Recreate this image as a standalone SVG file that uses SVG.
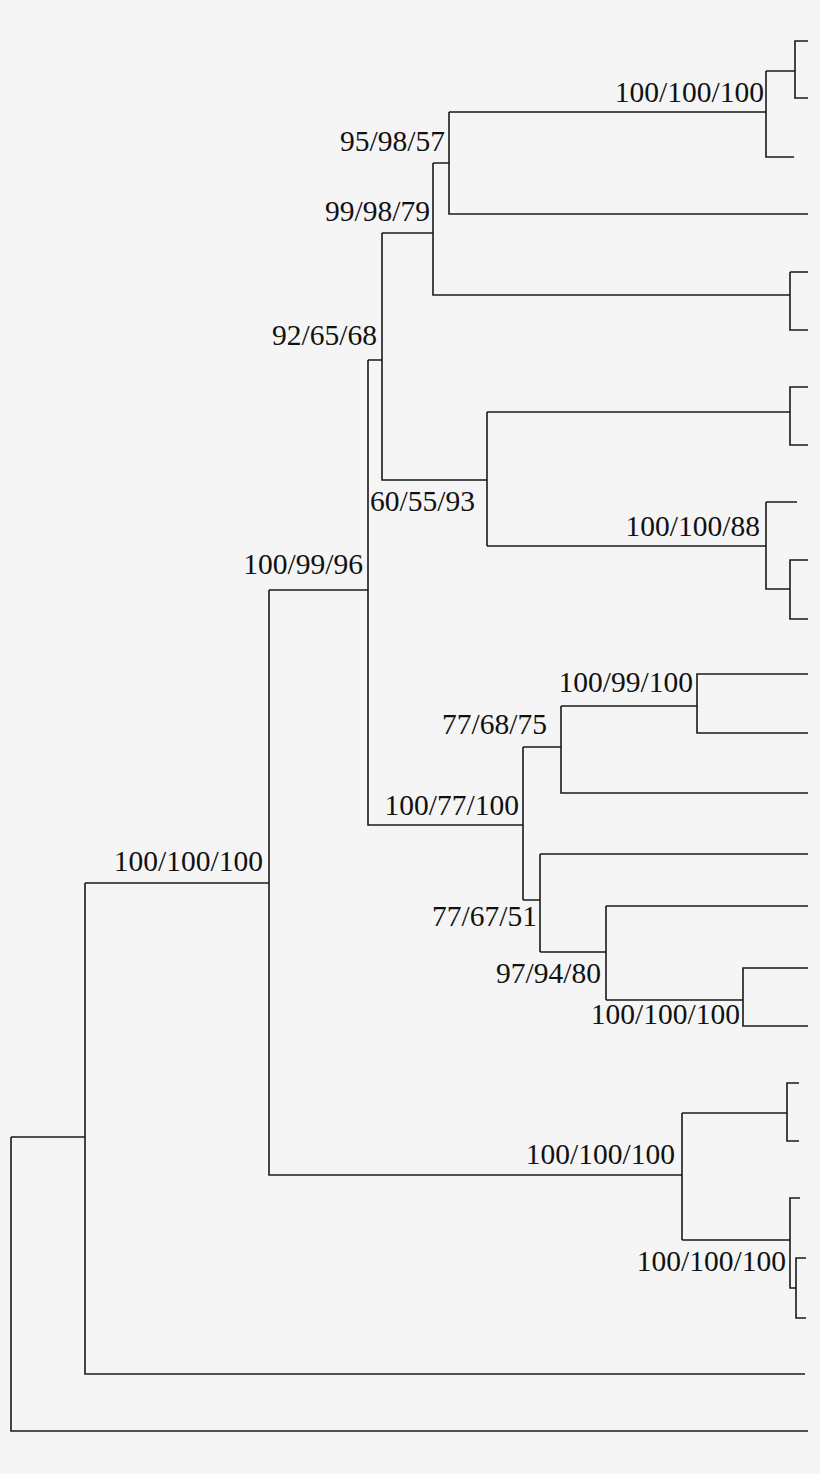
<svg xmlns="http://www.w3.org/2000/svg" width="820" height="1474" viewBox="0 0 820 1474">
<style>
.e{fill:none;stroke:#1a1a1a;stroke-width:1.6}
text{font-family:"Liberation Serif",serif;font-size:29.5px;fill:#111}
.r{text-anchor:end}
</style>
<rect width="820" height="1474" fill="#f5f5f5"/>
<g id="connectors" class="e">
<path d="M808,41H795V98H808M766,71H795M766,71V157H794M449,112H766M449,112V214H808"/>
<path d="M433,163H449M433,163V295H790M790,272H808M790,272V330H808M382,233H433"/>
<path d="M382,233V480H487M487,412V546M487,412H790M808,387H790V445H808M487,546H766M766,502H797M766,502V589H790M808,560H790V619H808"/>
<path d="M368,360H382M368,360V825H523M269,590H368"/>
<path d="M523,747V900M523,747H561M561,706V793H808M561,706H697M808,674H697V733H808"/>
<path d="M523,900H540M540,854V952M540,854H808M540,952H606M606,906V1000M606,906H808M606,1000H743M808,968H743V1026H808"/>
<path d="M269,590V1175H682M682,1113V1240M682,1113H787M799,1083H787V1141H799M682,1240H790M800,1198H790V1288H796M806,1258H796V1318H806"/>
<path d="M85,883H269M85,883V1374H805M11,1137H85M11,1137V1431H808"/>
</g>
<g id="labels">
<text class="r" x="764" y="102">100/100/100</text>
<text class="r" x="445" y="151">95/98/57</text>
<text class="r" x="430" y="221">99/98/79</text>
<text class="r" x="377" y="345">92/65/68</text>
<text x="370" y="511">60/55/93</text>
<text class="r" x="760" y="536">100/100/88</text>
<text class="r" x="363" y="574">100/99/96</text>
<text class="r" x="693" y="692">100/99/100</text>
<text class="r" x="547" y="734">77/68/75</text>
<text class="r" x="519" y="815">100/77/100</text>
<text class="r" x="537" y="926">77/67/51</text>
<text class="r" x="601" y="983">97/94/80</text>
<text class="r" x="740" y="1024">100/100/100</text>
<text class="r" x="263" y="871">100/100/100</text>
<text class="r" x="675" y="1164">100/100/100</text>
<text class="r" x="786" y="1271">100/100/100</text>
</g>
</svg>
